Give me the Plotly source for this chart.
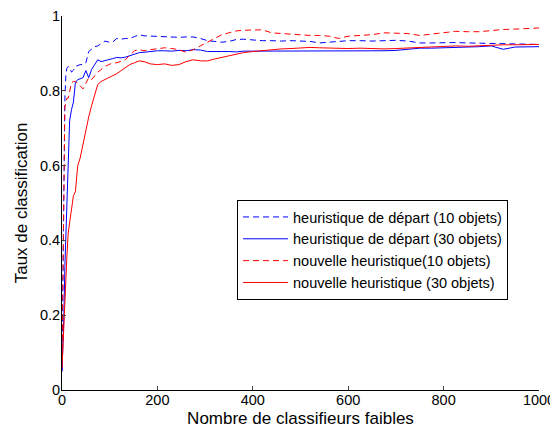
import plotly.graph_objects as go

x_vals = [0, 2, 4, 6, 8, 10, 13, 16, 20, 24, 28, 33, 38, 44, 50, 56, 62, 68, 75, 82,
          90, 98, 106, 115, 124, 133, 142, 152, 162, 172, 185, 200, 215, 230, 245, 260, 275, 290, 305, 320,
          335, 350, 365, 380, 400, 420, 440, 460, 480, 500, 520, 540, 560, 580, 600, 625, 650, 675, 700, 725,
          750, 775, 800, 825, 850, 875, 900, 925, 950, 975, 1000]

depart_10 = [0.05, 0.30, 0.60, 0.78, 0.84, 0.86, 0.865, 0.862, 0.85, 0.855, 0.865, 0.867, 0.87, 0.87, 0.875, 0.905, 0.912, 0.918, 0.92, 0.925,
             0.933, 0.93, 0.93, 0.94, 0.938, 0.94, 0.94, 0.945, 0.95, 0.947, 0.946, 0.945, 0.944, 0.944, 0.943, 0.944, 0.944, 0.94, 0.934, 0.932,
             0.93, 0.932, 0.937, 0.938, 0.935, 0.934, 0.934, 0.933, 0.934, 0.934, 0.932, 0.928, 0.93, 0.933, 0.934, 0.934, 0.933, 0.934, 0.935, 0.933,
             0.928, 0.928, 0.929, 0.929, 0.928, 0.927, 0.926, 0.925, 0.924, 0.924, 0.924]

depart_30 = [0.05, 0.12, 0.20, 0.33, 0.40, 0.46, 0.60, 0.72, 0.75, 0.77, 0.822, 0.83, 0.832, 0.835, 0.854, 0.835, 0.857, 0.87, 0.883, 0.878,
             0.88, 0.883, 0.886, 0.889, 0.888, 0.89, 0.894, 0.897, 0.902, 0.903, 0.905, 0.907, 0.907, 0.906, 0.908, 0.907, 0.91, 0.909, 0.905, 0.904,
             0.905, 0.905, 0.904, 0.906, 0.906, 0.905, 0.907, 0.906, 0.906, 0.907, 0.905, 0.906, 0.906, 0.907, 0.906, 0.906, 0.907, 0.907, 0.908, 0.912,
             0.914, 0.914, 0.915, 0.915, 0.916, 0.918, 0.92, 0.911, 0.917, 0.918, 0.918]

nouvelle_10 = [0.08, 0.35, 0.65, 0.756, 0.77, 0.78, 0.78, 0.80, 0.822, 0.825, 0.825, 0.82, 0.814, 0.805, 0.82, 0.835, 0.83, 0.84, 0.85, 0.857,
               0.865, 0.87, 0.874, 0.875, 0.878, 0.883, 0.895, 0.907, 0.91, 0.907, 0.91, 0.912, 0.915, 0.913, 0.91, 0.903, 0.91, 0.92, 0.93, 0.94,
               0.95, 0.955, 0.96, 0.962, 0.963, 0.963, 0.955, 0.953, 0.95, 0.948, 0.948, 0.948, 0.946, 0.94, 0.946, 0.948, 0.95, 0.955, 0.955, 0.953,
               0.948, 0.952, 0.955, 0.959, 0.958, 0.958, 0.961, 0.964, 0.965, 0.966, 0.968]

nouvelle_30 = [0.058, 0.12, 0.20, 0.25, 0.30, 0.35, 0.42, 0.45, 0.49, 0.52, 0.53, 0.60, 0.62, 0.66, 0.70, 0.73, 0.76, 0.79, 0.817, 0.825,
               0.83, 0.836, 0.84, 0.846, 0.854, 0.862, 0.87, 0.875, 0.88, 0.878, 0.872, 0.87, 0.872, 0.868, 0.87, 0.878, 0.883, 0.88, 0.88, 0.885,
               0.889, 0.892, 0.898, 0.902, 0.905, 0.908, 0.91, 0.912, 0.913, 0.915, 0.916, 0.915, 0.914, 0.913, 0.913, 0.914, 0.913, 0.912, 0.913, 0.914,
               0.916, 0.918, 0.919, 0.92, 0.919, 0.921, 0.922, 0.923, 0.923, 0.924, 0.924]

names = ["heuristique de départ (10 objets)", "heuristique de départ (30 objets)",
         "nouvelle heuristique(10 objets)", "nouvelle heuristique (30 objets)"]
x_ticks = [0, 200, 400, 600, 800, 1000]
y_ticks = [0, 0.2, 0.4, 0.6, 0.8, 1]

series = [depart_10, depart_30, nouvelle_10, nouvelle_30]
colors = ["#0000ff", "#0000ff", "#ff0000", "#ff0000"]
dashes = ["6px,4px", "solid", "6px,4px", "solid"]

fig = go.Figure()
for ys, nm, c, d in zip(series, names, colors, dashes):
    fig.add_trace(go.Scatter(x=x_vals, y=ys, mode="lines", name=nm,
                             line=dict(color=c, width=1, dash=d)))

font = dict(family="Liberation Sans, Arial, sans-serif", size=14.5, color="black")
# the page body adds an 8px offset, so the figure is 8px smaller and margins shifted
fig.update_layout(
    width=550, height=423,
    margin=dict(l=54, r=19, t=8, b=41),
    paper_bgcolor="white", plot_bgcolor="white",
    font=font,
    showlegend=True,
    legend=dict(x=0.367, y=0.508, xanchor="left", yanchor="top",
                bordercolor="black", borderwidth=1, bgcolor="white",
                font=dict(family="Liberation Sans, Arial, sans-serif", size=14.5, color="black"),
                tracegroupgap=0, itemwidth=45),
)
fig.update_xaxes(range=[0, 1000], tickvals=x_ticks, ticks="inside", ticklen=4,
                 showline=True, linecolor="black", linewidth=1, showgrid=False, zeroline=False,
                 automargin=False, ticklabelstandoff=-3, ticklabeloverflow="allow",
                 title=dict(text="Nombre de classifieurs faibles", standoff=4), tickfont=font)
fig.update_yaxes(range=[0, 1], tickvals=y_ticks, ticks="inside", ticklen=4,
                 showline=True, linecolor="black", linewidth=1, showgrid=False, zeroline=False,
                 automargin=False, ticklabelstandoff=-2, ticklabeloverflow="allow",
                 title=dict(text="Taux de classification", standoff=7), tickfont=font)

fig.write_html("out.html")
